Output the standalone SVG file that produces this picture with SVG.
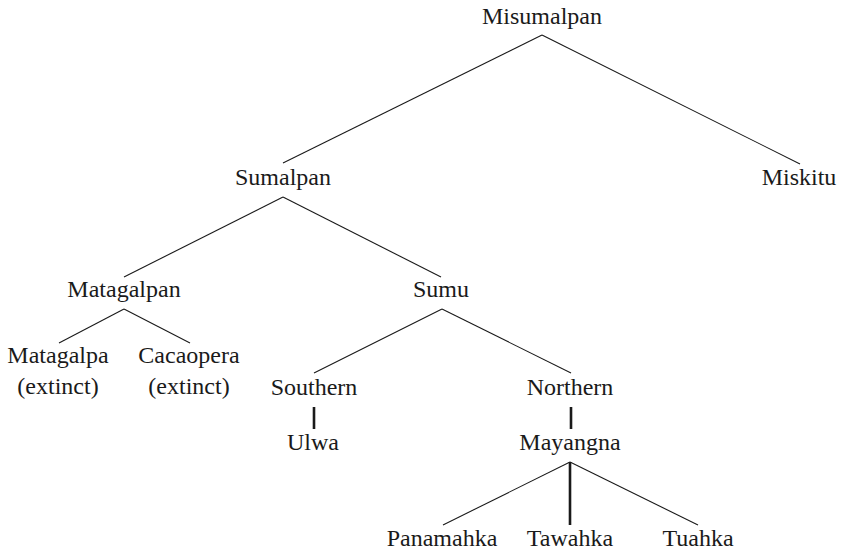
<svg xmlns="http://www.w3.org/2000/svg" width="841" height="551" viewBox="0 0 841 551">
<style>
text{font-family:"Liberation Serif","Times New Roman",serif;font-size:24px;fill:#1a1a1a;text-anchor:middle}
.e line{stroke:#1a1a1a;stroke-width:1.1;fill:none}
.e line.t{stroke-width:2.6}
</style>
<rect width="841" height="551" fill="#fff"/>
<g class="e" id="connectors">
<line x1="542" y1="35" x2="283" y2="163"/>
<line x1="542" y1="35" x2="800" y2="164"/>
<line x1="283" y1="197" x2="124" y2="277"/>
<line x1="283" y1="197" x2="441" y2="277"/>
<line x1="124" y1="309" x2="59" y2="343"/>
<line x1="124" y1="309" x2="190" y2="343"/>
<line x1="442" y1="309" x2="314" y2="373"/>
<line x1="442" y1="309" x2="571" y2="373"/>
<line class="t" x1="314" y1="407" x2="314" y2="429"/>
<line class="t" x1="571" y1="407" x2="571" y2="429"/>
<line x1="570" y1="462" x2="443" y2="525"/>
<line class="t" x1="570" y1="462" x2="570" y2="525"/>
<line x1="570" y1="462" x2="698" y2="525"/>
</g>
<g id="misumalpan"><text x="542" y="24">Misumalpan</text></g>
<g id="sumalpan"><text x="283" y="185">Sumalpan</text></g>
<g id="miskitu"><text x="799" y="185">Miskitu</text></g>
<g id="matagalpan"><text x="124" y="297">Matagalpan</text></g>
<g id="sumu"><text x="441" y="297">Sumu</text></g>
<g id="matagalpa"><text x="58" y="363">Matagalpa</text><text x="58" y="394">(extinct)</text></g>
<g id="cacaopera"><text x="189" y="363">Cacaopera</text><text x="189" y="394">(extinct)</text></g>
<g id="southern"><text x="314" y="395">Southern</text></g>
<g id="northern"><text x="570" y="395">Northern</text></g>
<g id="ulwa"><text x="313" y="450">Ulwa</text></g>
<g id="mayangna"><text x="570" y="450">Mayangna</text></g>
<g id="panamahka"><text x="442" y="546">Panamahka</text></g>
<g id="tawahka"><text x="570" y="546">Tawahka</text></g>
<g id="tuahka"><text x="698" y="546">Tuahka</text></g>
</svg>
